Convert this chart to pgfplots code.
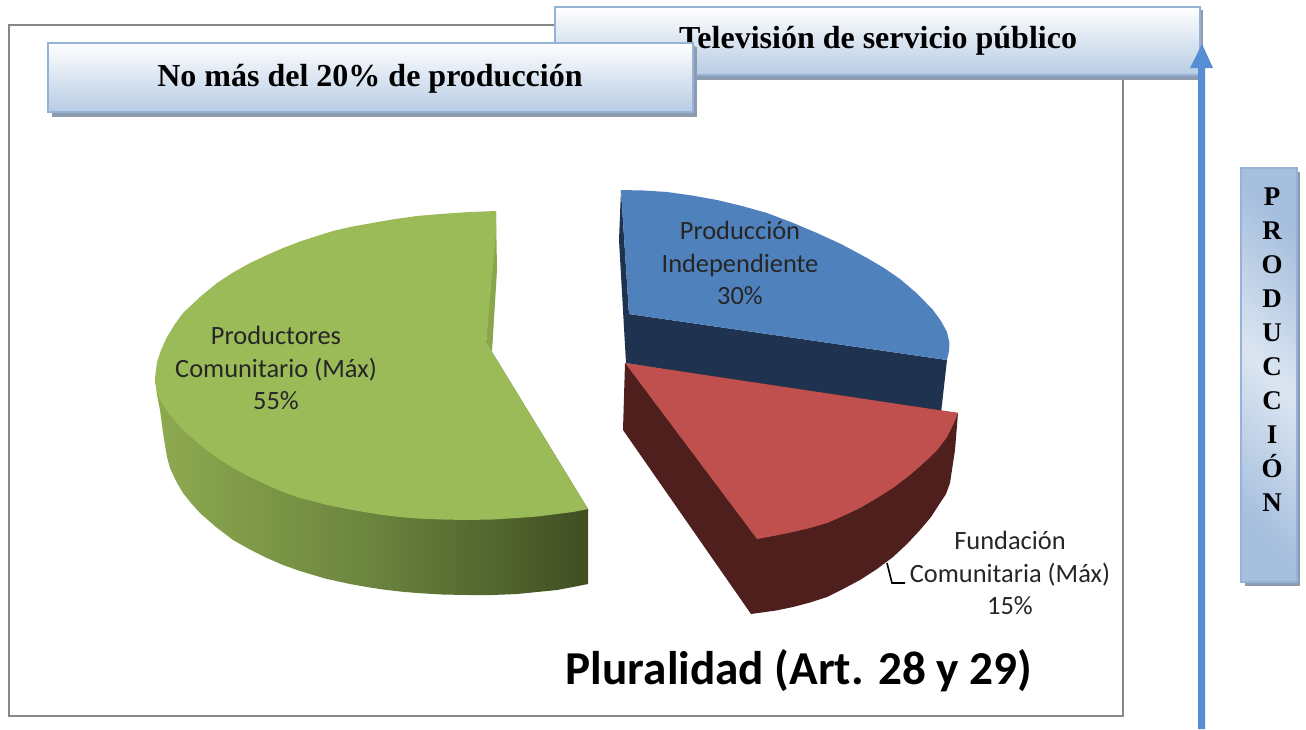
\documentclass[border=0pt]{standalone}
\usepackage{pgfplots}
\pgfplotsset{compat=1.18}
\usepackage{fontspec}
\setmainfont{Liberation Serif}
\newfontfamily\calfont{Carlito}
\definecolor{bordergray}{HTML}{868686}
\definecolor{boxedge}{HTML}{95B3D7}
\definecolor{boxend}{HTML}{A6BFDE}
\definecolor{boxshadow}{HTML}{8C9BAE}
\definecolor{boxlow}{HTML}{B8CCE4}
\definecolor{boxlight}{HTML}{DBE5F1}
\definecolor{arrowblue}{HTML}{558ED5}
\definecolor{gtop}{HTML}{9BBB59}
\definecolor{gin}{HTML}{89A64C}
\definecolor{gwl}{HTML}{8EAA50}
\definecolor{gwm}{HTML}{6B843E}
\definecolor{gwr}{HTML}{404E22}
\definecolor{btop}{HTML}{4F81BD}
\definecolor{bwall}{HTML}{1F3350}
\definecolor{rtop}{HTML}{C0504D}
\definecolor{rwall}{HTML}{4F1F1D}
\begin{document}
\begin{tikzpicture}[x=1pt,y=1pt]
\begin{axis}[
  scale only axis, width=1306pt, height=729pt,
  xmin=0, xmax=1306, ymin=0, ymax=729, y dir=reverse,
  hide axis, clip=false]
% page
\addplot[fill=white, draw=none, no marks] coordinates {(0,0)(1306,0)(1306,729)(0,729)} --cycle;
% chart frame
\addplot[draw=bordergray, line width=2pt, no marks] coordinates {(9,25)(1123,25)(1123,716)(9,716)} --cycle;
% box: television
\addplot[fill=boxshadow, draw=none, no marks] coordinates {(559,10)(1203,10)(1203,80)(559,80)} --cycle;
\addplot[draw=boxedge, line width=2.2pt, top color=white, bottom color=boxlow, middle color=boxlight, no marks] coordinates {(555,7)(1200,7)(1200,75)(555,75)} --cycle;
\node[font=\fontsize{32}{32}\selectfont\bfseries] at (axis cs:878,40.5) {Televisión de servicio público};
% box: 20%
\addplot[fill=boxshadow, draw=none, no marks] coordinates {(52,47)(697,47)(697,117)(52,117)} --cycle;
\addplot[draw=boxedge, line width=2.2pt, top color=white, bottom color=boxlow, middle color=boxlight, no marks] coordinates {(48,43)(693,43)(693,112)(48,112)} --cycle;
\node[font=\fontsize{32}{32}\selectfont\bfseries] at (axis cs:370,78.5) {No más del 20\% de producción};
% arrow
\addplot[fill=arrowblue, draw=none, no marks] coordinates {(1198,729)(1198,68)(1190,68)(1202,44)(1213,68)(1205,68)(1205,729)} --cycle;
% vertical box
\addplot[fill=boxshadow, draw=none, no marks] coordinates {(1245,172)(1300,172)(1300,586)(1245,586)} --cycle;
\addplot[draw=boxedge, line width=2.2pt, shading=axis, top color=boxend, bottom color=boxend, middle color=boxlight, shading angle=-45, no marks] coordinates {(1241,168)(1297,168)(1297,582)(1241,582)} --cycle;
\node[font=\fontsize{27}{34}\selectfont\bfseries, align=center] at (axis cs:1272,350) {P\\R\\O\\D\\U\\C\\C\\I\\Ó\\N};
% green wall
\addplot[draw=none, shading=axis, left color=gwl, right color=gwr, middle color=gwm, no marks] coordinates {
 (155,378)(157,395)(160,410)(163,433)(167,457)(170,468)(176,481)(183,493)(191,503)(200,513)(216,527)(233,540)(250,549.5)(267,558)(283,565)(300,571)(325,578.5)(350,584)(367,587)(383,589.5)(400,591.5)(417,593)(442,594.5)(467,595)(492,595)(517,594)(537,592)(557,590)(573,587)(588,584)(588,509)(492,352)} --cycle;
% green top
\addplot[fill=gin, draw=none, no marks] coordinates {(496,211)(497,270)(492,352)(486,343)} --cycle;
\addplot[fill=gtop, draw=none, no marks] coordinates {
 (496,211)(470,212)(440,214)(417,216)(395,219)(372,223)(350,227)(333,231)(317,236)(300,241.5)(283,248)(266,255.5)(250,263)(233,272.5)(217,283)(200,297)(183,313)(175,324)(167,337)(161,350)(157,362)(155,378)(156,388)(160,400)(170,415)(183,430)(200,445)(216,457)(233,468)(250,477)(267,485)(283,492)(300,498)(325,504.5)(350,509.5)(367,512.5)(383,515)(400,517)(417,518.5)(442,519.5)(467,520)(492,519.5)(517,518)(537,516.5)(557,514)(573,512)(588,509)(492,352)(486,343)(496,233)} --cycle;
% blue
\addplot[fill=bwall, draw=none, no marks] coordinates {(621,190)(619,240)(626,363)(941,413)(947,360)(629,314)} --cycle;
\addplot[fill=btop, draw=none, no marks] coordinates {
 (621,190)(644,190.5)(667,192)(692,195.5)(717,200)(742,206)(767,213)(792,222.5)(817,233)(842,244.5)(867,258)(884,268)(900,279)(917,293.5)(933,310)(941,321)(947,332)(949.5,343)(949,351)(947,360)(629,314)} --cycle;
% red
\addplot[fill=rwall, draw=none, no marks] coordinates {
 (625,363)(958,413)(955,450)(950,483)(946,494)(940,503)(931,517)(920,530)(907,544)(893,557)(877,569)(860,580)(843,589)(827,597)(810,602.5)(793,607)(776,610.5)(751,614)(623,430)} --cycle;
\addplot[fill=rtop, draw=none, no marks] coordinates {
 (625,363)(958,413)(953,425)(947,437)(938,449)(927,460)(910,475)(893,488)(877,498)(860,508)(843,516)(827,523)(810,528)(793,532)(776,535.5)(757,539)} --cycle;
% leader
\addplot[draw=black, line width=1.6pt, no marks] coordinates {(887,563)(892,583)(905,583)};
% labels
\node[font=\calfont\fontsize{26.4}{32.5}\selectfont, align=center, text=black!85] at (axis cs:276,368) {Productores\\Comunitario (Máx)\\55\%};
\node[font=\calfont\fontsize{26.4}{32.5}\selectfont, align=center, text=black!85] at (axis cs:740,263) {Producción\\Independiente\\30\%};
\node[font=\calfont\fontsize{26.4}{32.5}\selectfont, align=center, text=black!85] at (axis cs:1010,573) {Fundación\\Comunitaria (Máx)\\15\%};
\node[font=\calfont\fontsize{47.2}{47.2}\selectfont\bfseries, text=black] at (axis cs:799,671) {Pluralidad (Art. 28 y 29)};
\end{axis}
\end{tikzpicture}
\end{document}
